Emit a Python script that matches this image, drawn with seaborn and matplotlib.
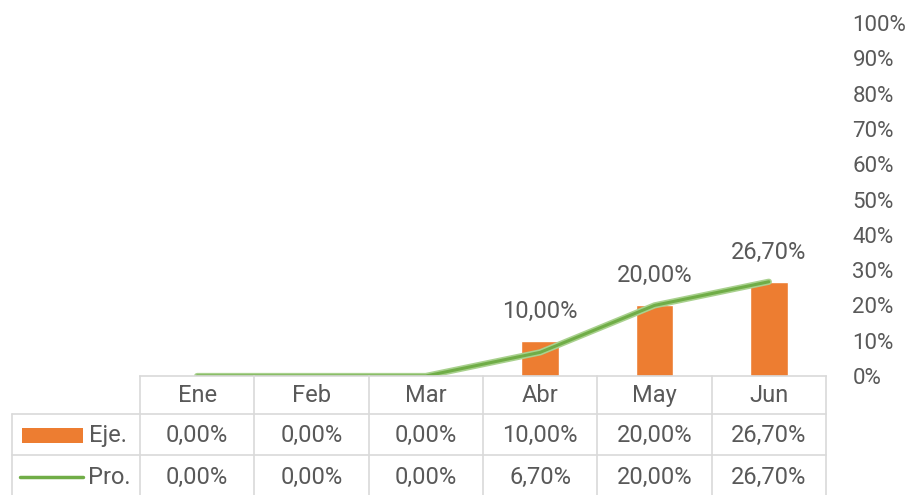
import numpy as np
import pandas as pd
import seaborn as sns
import matplotlib.pyplot as plt
import matplotlib.patheffects as pe
from matplotlib.transforms import blended_transform_factory
from matplotlib.patches import Rectangle
from matplotlib.lines import Line2D

# data
months = ['Ene', 'Feb', 'Mar', 'Abr', 'May', 'Jun']
eje = [0.0, 0.0, 0.0, 10.0, 20.0, 26.7]
pro = [0.0, 0.0, 0.0, 6.7, 20.0, 26.7]
series_names = ['Eje.', 'Pro.']
yticks = list(range(0, 101, 10))

df = pd.DataFrame({'mes': months, 'eje': eje, 'pro': pro})

orange = '#ED7D31'
green = '#70AD47'
light_green = '#A9D18E'
grid_gray = '#D9D9D9'
txt = '#595959'

sns.set_style('white')
plt.rcParams['font.family'] = ['Roboto', 'DejaVu Sans']

W, H = 909, 495
fig = plt.figure(figsize=(W / 100, H / 100), dpi=100)
# plot area in pixels: x 140..826, y 23..376
ax = fig.add_axes([140 / W, 1 - 376 / H, 686 / W, (376 - 23) / H])

sns.barplot(data=df, x='mes', y='eje', color=orange, width=0.33,
            saturation=1, ax=ax)
sns.lineplot(data=df, x='mes', y='pro', color=green, lw=2.2, ax=ax,
             path_effects=[pe.Stroke(linewidth=4.5, foreground=light_green), pe.Normal()])

# data labels only for non-zero bars
def fmt(v):
    return f'{v:.2f}'.replace('.', ',') + '%'

bar_labels = [fmt(v) if v > 0 else '' for v in eje]
ax.bar_label(ax.containers[0], labels=bar_labels, padding=13, fontsize=17, color=txt)

ax.set_xlim(-0.5, len(months) - 0.5)
ax.set_ylim(0, 100)
ax.set_yticks(yticks)
ax.set_yticklabels([f'{t}%' for t in yticks])
ax.yaxis.tick_right()
ax.tick_params(axis='y', length=0, pad=19, labelsize=16, labelcolor=txt)
ax.tick_params(axis='x', length=0, labelbottom=False)
ax.set_xlabel('')
ax.set_ylabel('')
for s in ['top', 'left', 'right']:
    ax.spines[s].set_visible(False)
ax.spines['bottom'].set_color(grid_gray)
ax.spines['bottom'].set_linewidth(1.2)

# data table under the plot
fy = lambda py: 1 - py / H
fx = lambda px: px / W
tr = blended_transform_factory(ax.transData, fig.transFigure)

row_edges = [376, 414, 455, 496]
for y in row_edges[1:3]:
    fig.add_artist(Line2D([fx(12), fx(826)], [fy(y), fy(y)], color=grid_gray, lw=1.2))
fig.add_artist(Line2D([fx(12), fx(12)], [fy(414), fy(496)], color=grid_gray, lw=1.2))
for i in range(len(months) + 1):
    fig.add_artist(Line2D([i - 0.5, i - 0.5], [fy(376), fy(496)], color=grid_gray,
                          lw=1.2, transform=tr))

row_y = [395.5, 435.5, 477]
for i, m in enumerate(months):
    fig.text(i, fy(row_y[0]), m, transform=tr, ha='center', va='center',
             fontsize=17, color=txt)
    fig.text(i, fy(row_y[1]), fmt(eje[i]), transform=tr, ha='center', va='center',
             fontsize=17, color=txt)
    fig.text(i, fy(row_y[2]), fmt(pro[i]), transform=tr, ha='center', va='center',
             fontsize=17, color=txt)

# legend keys in the row header column
fig.add_artist(Rectangle((fx(22), fy(443)), fx(83) - fx(22), fy(428) - fy(443),
                         color=orange, lw=0))
fig.add_artist(Line2D([fx(20), fx(83)], [fy(477), fy(477)], color=green, lw=2.5))
fig.text(fx(89), fy(row_y[1]), series_names[0], ha='left', va='center', fontsize=17, color=txt)
fig.text(fx(88), fy(row_y[2]), series_names[1], ha='left', va='center', fontsize=17, color=txt)

fig.savefig('out.png', dpi=100)
